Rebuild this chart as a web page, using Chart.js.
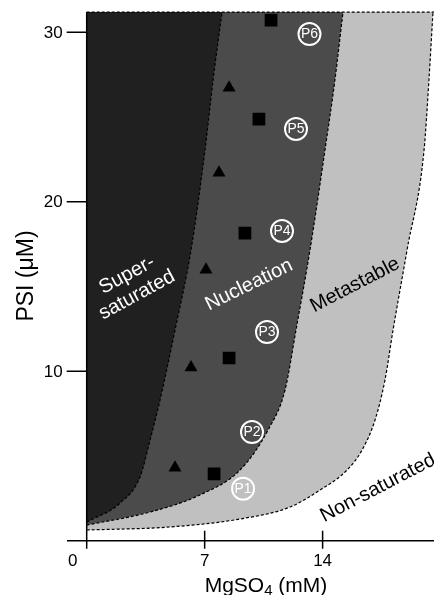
<!DOCTYPE html>
<html>
<head>
<meta charset="utf-8">
<script src="https://cdn.jsdelivr.net/npm/chart.js@4/dist/chart.umd.min.js"></script>
<style>
html,body{margin:0;padding:0;background:#fff;}
#wrap{width:434px;height:595px;position:relative;}
</style>
</head>
<body>
<div id="wrap"><canvas id="c" width="434" height="595"></canvas></div>
<script>
// ---- data (MgSO4 in mM on x, PSI in µM on y) ----
const xTickValues = [0, 7, 14];
const xTickLabels = ['0', '7', '14'];
const yTickValues = [10, 20, 30];
const yTickLabels = ['10', '20', '30'];
const xTitle = 'MgSO4 (mM)';
const yTitle = 'PSI (μM)';
const yTop = 31.19;

// boundary: supersaturated / nucleation
const curveSuper = [
  {x:0,y:1.1},{x:1.98,y:2.22},{x:3.16,y:3.76},{x:3.76,y:5.94},{x:4.35,y:8.3},
  {x:5.24,y:12.43},{x:6.19,y:17.15},{x:7.02,y:23.05},{x:7.5,y:27.18},{x:8.03,y:31.19}
];
// boundary: nucleation / metastable
const curveNucleation = [
  {x:0,y:0.92},{x:3.76,y:1.69},{x:6.72,y:2.7},{x:9.1,y:4.17},{x:10.76,y:6.53},
  {x:11.77,y:8.89},{x:12.42,y:12.43},{x:13.25,y:17.15},{x:14.14,y:23.05},{x:14.73,y:27.18},{x:15.21,y:31.19}
];
// boundary: metastable / non-saturated
const curveMetastable = [
  {x:0,y:0.63},{x:4.94,y:0.81},{x:9.1,y:1.28},{x:12.07,y:1.99},{x:13.85,y:2.99},
  {x:15.45,y:4.17},{x:16.34,y:5.35},{x:17.11,y:7.12},{x:17.7,y:9.48},{x:18.18,y:12.43},
  {x:19.01,y:17.15},{x:20.02,y:23.05},{x:20.31,y:27.18},{x:20.55,y:31.19}
];
const topEdge = [{x:0,y:yTop},{x:20.61,y:yTop}];

const triangles = [
  {x:8.45,y:26.72},{x:7.85,y:21.71},{x:7.08,y:15.98},{x:6.19,y:10.22},{x:5.24,y:4.31}
];
const squares = [
  {x:10.94,y:30.71},{x:10.22,y:24.88},{x:9.39,y:18.15},{x:8.45,y:10.78},{x:7.56,y:3.94}
];
const pointLabels = ['P1','P2','P3','P4','P5','P6'];
const pointPos = [
  {x:9.28,y:3.07},{x:9.81,y:6.41},{x:10.7,y:12.31},{x:11.59,y:18.27},{x:12.42,y:24.29},{x:13.22,y:29.89}
];
const regionLabels = ['Super-', 'saturated', 'Nucleation', 'Metastable', 'Non-saturated'];

const FONT = '"Liberation Sans", Arial, Helvetica, sans-serif';

const overlay = {
  id: 'overlay',
  afterDatasetsDraw(chart) {
    const ctx = chart.ctx;
    const xs = chart.scales.x, ys = chart.scales.y;
    const ca = chart.chartArea;
    const x0 = xs.getPixelForValue(0), y0 = ys.getPixelForValue(0);
    ctx.save();
    // P labels text
    ctx.fillStyle = '#ffffff';
    ctx.font = '14px ' + FONT;
    ctx.textAlign = 'center';
    ctx.textBaseline = 'middle';
    pointPos.forEach((p, i) => {
      ctx.fillText(pointLabels[i], xs.getPixelForValue(p.x), ys.getPixelForValue(p.y) + 0.5);
    });
    // region labels
    ctx.font = '20px ' + FONT;
    const rot = -27.5 * Math.PI / 180;
    function rtext(t, px, py, color, ang) {
      ctx.save();
      ctx.translate(px, py);
      ctx.rotate(ang);
      ctx.fillStyle = color;
      ctx.fillText(t, 0, 0);
      ctx.restore();
    }
    rtext(regionLabels[0], 127, 275, '#ffffff', -28.5 * Math.PI / 180);
    rtext(regionLabels[1], 137, 295, '#ffffff', -28.5 * Math.PI / 180);
    rtext(regionLabels[2], 249, 285, '#ffffff', -26 * Math.PI / 180);
    rtext(regionLabels[3], 355, 285, '#000000', rot);
    rtext(regionLabels[4], 378, 488, '#000000', rot);

    // axes
    ctx.strokeStyle = '#000';
    ctx.lineWidth = 1.5;
    ctx.beginPath();
    ctx.moveTo(ca.left, y0); ctx.lineTo(ca.right, y0);
    ctx.moveTo(x0, ys.getPixelForValue(yTop)); ctx.lineTo(x0, y0 + 8);
    yTickValues.forEach(v => {
      const py = ys.getPixelForValue(v);
      ctx.moveTo(x0 - 20, py); ctx.lineTo(x0, py);
    });
    xTickValues.forEach(v => {
      const px = xs.getPixelForValue(v);
      if (v === 0) { ctx.moveTo(px, y0); ctx.lineTo(px, y0 + 8); }
      else { ctx.moveTo(px, y0 - 10); ctx.lineTo(px, y0 + 8); }
    });
    ctx.stroke();

    ctx.fillStyle = '#000';
    ctx.font = '17px ' + FONT;
    ctx.textAlign = 'right';
    ctx.textBaseline = 'middle';
    yTickValues.forEach((v, i) => {
      ctx.fillText(yTickLabels[i], x0 - 24, ys.getPixelForValue(v) + 1);
    });
    ctx.textAlign = 'center';
    ctx.textBaseline = 'top';
    xTickValues.forEach((v, i) => {
      const px = xs.getPixelForValue(v) + (v === 0 ? -14 : 0);
      ctx.fillText(xTickLabels[i], px, y0 + 12);
    });

    // axis titles
    ctx.font = '23px ' + FONT;
    ctx.save();
    ctx.translate(33, 276);
    ctx.rotate(-Math.PI / 2);
    ctx.textAlign = 'center';
    ctx.textBaseline = 'alphabetic';
    ctx.fillText(yTitle, 0, 0);
    ctx.restore();

    // x title with subscript 4
    const partA = 'MgSO', partB = '4', partC = ' (mM)';
    ctx.textAlign = 'left';
    ctx.textBaseline = 'alphabetic';
    ctx.font = '21px ' + FONT;
    const wA = ctx.measureText(partA).width, wC = ctx.measureText(partC).width;
    ctx.font = '15px ' + FONT;
    const wB = ctx.measureText(partB).width;
    const total = wA + wB + wC;
    let sx = 266 - total / 2;
    const base = 592;
    ctx.font = '21px ' + FONT;
    ctx.fillText(partA, sx, base);
    ctx.font = '15px ' + FONT;
    ctx.fillText(partB, sx + wA, base + 3);
    ctx.font = '21px ' + FONT;
    ctx.fillText(partC, sx + wA + wB, base);
    ctx.restore();
  }
};

const lineDs = (data, fillColor) => ({
  type: 'line',
  data: data,
  borderColor: '#000',
  borderWidth: 1.2,
  borderDash: [3, 2],
  pointRadius: 0,
  cubicInterpolationMode: 'monotone',
  fill: fillColor ? {value: yTop} : false,
  backgroundColor: fillColor || 'transparent'
});

new Chart(document.getElementById('c'), {
  type: 'scatter',
  data: {
    datasets: [
      { label: 'triangles', data: triangles, pointStyle: 'triangle', pointRadius: 7.5,
        backgroundColor: '#000', borderColor: '#000', borderWidth: 0 },
      { label: 'squares', data: squares, pointStyle: 'rect', pointRadius: 9,
        backgroundColor: '#000', borderColor: '#000', borderWidth: 0 },
      { label: 'P', data: pointPos, pointStyle: 'circle', pointRadius: 11,
        backgroundColor: 'rgba(0,0,0,0)', borderColor: '#ffffff', borderWidth: 2 },
      Object.assign(lineDs(topEdge, null), {label: 'top'}),
      Object.assign(lineDs(curveSuper, '#202020'), {label: 'supersaturated'}),
      Object.assign(lineDs(curveNucleation, '#4b4b4b'), {label: 'nucleation'}),
      Object.assign(lineDs(curveMetastable, '#c0c0c0'), {label: 'metastable'})
    ]
  },
  options: {
    responsive: false,
    animation: false,
    events: [],
    layout: { autoPadding: false, padding: { left: 67, right: 0, top: 10.2, bottom: 54.3 } },
    scales: {
      x: { type: 'linear', min: -1.169, max: 20.61, display: false },
      y: { type: 'linear', min: 0, max: 31.3, display: false }
    },
    plugins: { legend: { display: false }, tooltip: { enabled: false } }
  },
  plugins: [overlay]
});
</script>
</body>
</html>
